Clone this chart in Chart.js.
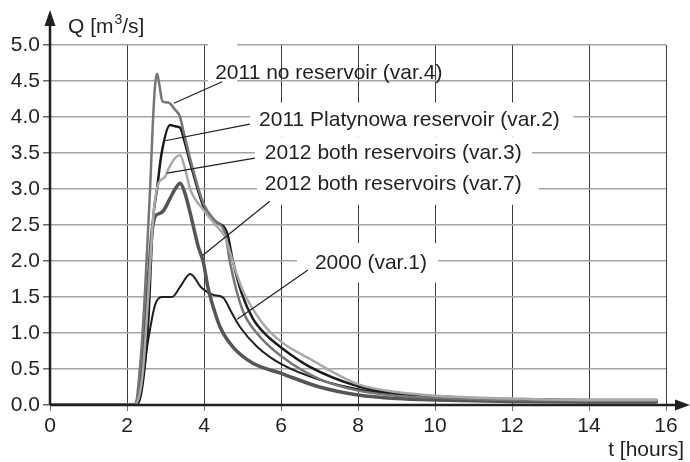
<!DOCTYPE html>
<html>
<head>
<meta charset="utf-8">
<script src="https://cdn.jsdelivr.net/npm/chart.js@4.4.1/dist/chart.umd.min.js"></script>
<style>
  html, body { margin: 0; padding: 0; background: #fff; }
  #wrap { width: 690px; height: 462px; }
</style>
</head>
<body>
<div id="wrap"><canvas id="flood" width="690" height="462"></canvas></div>
<script>
// hydrographs: t [hours], Q [m3/s]
const var4T = [0, 2.2, 2.35, 2.47, 2.6, 2.67, 2.73, 2.78, 2.84, 2.92, 3.07, 3.25, 3.38, 3.45, 3.7, 4.0, 4.3, 4.55, 4.68, 5.0, 5.37, 6.0, 7.0, 8.0, 9.0, 10, 12, 14, 15.75];
const var4Q = [0, 0, 0.6, 1.6, 3.0, 3.9, 4.45, 4.6, 4.45, 4.22, 4.2, 4.1, 4.0, 3.84, 3.3, 2.78, 2.55, 2.38, 1.97, 1.32, 1.0, 0.68, 0.36, 0.2, 0.13, 0.1, 0.07, 0.06, 0.06];

const var2T = [0, 2.2, 2.38, 2.55, 2.67, 2.78, 2.9, 3.12, 3.25, 3.38, 3.5, 3.7, 4.0, 4.3, 4.6, 4.75, 4.98, 5.27, 5.6, 6.0, 6.75, 8.0, 9.0, 10, 12, 14, 15.75];
const var2Q = [0, 0, 0.2, 1.14, 2.53, 3.0, 3.5, 3.89, 3.87, 3.85, 3.65, 3.25, 2.74, 2.55, 2.39, 2.0, 1.55, 1.2, 0.98, 0.8, 0.53, 0.26, 0.16, 0.12, 0.08, 0.07, 0.07];

const var3T = [0, 2.2, 2.4, 2.55, 2.68, 2.8, 2.99, 3.07, 3.25, 3.38, 3.5, 3.64, 4.0, 4.3, 4.55, 4.8, 5.0, 5.5, 6.0, 6.75, 8.0, 9.0, 10, 12, 14, 15.75];
const var3Q = [0, 0, 0.4, 1.5, 2.6, 3.05, 3.17, 3.27, 3.43, 3.47, 3.3, 3.0, 2.7, 2.5, 2.33, 1.9, 1.6, 1.15, 0.88, 0.64, 0.29, 0.18, 0.13, 0.09, 0.07, 0.07];

const var7T = [0, 2.2, 2.35, 2.45, 2.55, 2.65, 2.73, 2.85, 2.95, 3.1, 3.25, 3.38, 3.5, 3.64, 3.85, 3.98, 4.1, 4.24, 4.42, 4.76, 5.27, 6.0, 7.0, 8.0, 9.0, 10, 12, 14, 15.75];
const var7Q = [0, 0, 0.3, 0.9, 1.7, 2.4, 2.62, 2.66, 2.7, 2.85, 3.0, 3.08, 2.95, 2.67, 2.2, 1.99, 1.64, 1.36, 1.08, 0.8, 0.58, 0.44, 0.25, 0.14, 0.09, 0.07, 0.05, 0.04, 0.04];

const var1T = [0, 2.25, 2.4, 2.55, 2.73, 2.9, 3.17, 3.38, 3.64, 3.95, 4.24, 4.5, 4.72, 4.94, 5.38, 6.0, 7.0, 8.0, 9.0, 10, 12, 14, 15.75];
const var1Q = [0, 0, 0.35, 0.9, 1.39, 1.5, 1.5, 1.64, 1.82, 1.62, 1.53, 1.49, 1.28, 1.08, 0.81, 0.57, 0.35, 0.22, 0.15, 0.11, 0.08, 0.07, 0.07];

const seriesNames = ['2011 no reservoir (var.4)', '2011 Platynowa reservoir (var.2)', '2012 both reservoirs (var.3)', '2012 both reservoirs (var.7)', '2000 (var.1)'];
const xTicks = [0, 2, 4, 6, 8, 10, 12, 14, 16];
const yTicks = [0, 0.5, 1, 1.5, 2, 2.5, 3, 3.5, 4, 4.5, 5];

// callouts: text anchor (left, middle) and leader line, in data units
const callouts = [
  { text: seriesNames[0], tx: 4.29, ty: 4.61, box: [4.1, 5.48, 4.86, 4.36], from: [4.47, 4.49], to: [3.22, 4.19] },
  { text: seriesNames[1], tx: 5.43, ty: 3.96, box: [5.2, 4.20, 13.6, 3.73], from: [5.19, 3.90], to: [2.99, 3.67] },
  { text: seriesNames[2], tx: 5.58, ty: 3.50, box: [5.32, 3.73, 12.52, 3.29], from: [5.32, 3.43], to: [3.04, 3.22] },
  { text: seriesNames[3], tx: 5.58, ty: 3.06, box: [5.38, 3.29, 12.7, 2.78], from: [5.71, 2.83], to: [3.97, 2.08] },
  { text: seriesNames[4], tx: 6.88, ty: 1.97, box: [6.42, 2.25, 10.08, 1.70], from: [6.7, 1.875], to: [4.86, 1.19] }
];

const font = '"Liberation Sans", Arial, sans-serif';
const ink = '#231f20';

function pts(ts, qs) { return ts.map((t, i) => ({ x: t, y: qs[i] })); }

const calloutPlugin = {
  id: 'callouts',
  beforeDatasetsDraw(chart) {
    const { ctx, scales: { x, y } } = chart;
    ctx.save();
    ctx.fillStyle = '#fff';
    callouts.forEach(c => {
      const x0 = x.getPixelForValue(c.box[0]), y0 = y.getPixelForValue(c.box[1]);
      const x1 = x.getPixelForValue(c.box[2]), y1 = y.getPixelForValue(c.box[3]);
      ctx.fillRect(x0, y0, x1 - x0, y1 - y0);
    });
    ctx.restore();
  },
  afterDatasetsDraw(chart) {
    const { ctx, scales: { x, y } } = chart;
    ctx.save();
    ctx.strokeStyle = ink;
    ctx.lineWidth = 1.2;
    callouts.forEach(c => {
      ctx.beginPath();
      ctx.moveTo(x.getPixelForValue(c.from[0]), y.getPixelForValue(c.from[1]));
      ctx.lineTo(x.getPixelForValue(c.to[0]), y.getPixelForValue(c.to[1]));
      ctx.stroke();
    });
    ctx.fillStyle = ink;
    ctx.font = '21px ' + font;
    ctx.textBaseline = 'middle';
    ctx.textAlign = 'left';
    callouts.forEach(c => {
      ctx.fillText(c.text, x.getPixelForValue(c.tx), y.getPixelForValue(c.ty));
    });
    ctx.restore();
  },
  afterDraw(chart) {
    const { ctx, chartArea: a } = chart;
    ctx.save();
    ctx.strokeStyle = ink;
    ctx.fillStyle = ink;
    ctx.lineWidth = 2.5;
    // y axis with arrow
    ctx.beginPath();
    ctx.moveTo(a.left, a.bottom);
    ctx.lineTo(a.left, 22);
    ctx.stroke();
    ctx.beginPath();
    ctx.moveTo(a.left, 10);
    ctx.lineTo(a.left - 5.5, 26);
    ctx.lineTo(a.left + 5.5, 26);
    ctx.closePath();
    ctx.fill();
    // x axis with arrow
    ctx.beginPath();
    ctx.moveTo(a.left, a.bottom);
    ctx.lineTo(680, a.bottom);
    ctx.stroke();
    ctx.beginPath();
    ctx.moveTo(690, a.bottom);
    ctx.lineTo(675, a.bottom - 5.5);
    ctx.lineTo(675, a.bottom + 5.5);
    ctx.closePath();
    ctx.fill();
    // axis titles
    ctx.font = '21px ' + font;
    ctx.textBaseline = 'alphabetic';
    ctx.textAlign = 'left';
    let px = 68;
    ctx.fillText('Q [m', px, 33);
    px += ctx.measureText('Q [m').width;
    ctx.font = '14px ' + font;
    ctx.fillText('3', px + 1, 24);
    px += ctx.measureText('3').width + 1;
    ctx.font = '21px ' + font;
    ctx.fillText('/s]', px, 33);
    ctx.textAlign = 'right';
    ctx.fillText('t [hours]', 684, 456);
    ctx.restore();
  }
};

new Chart(document.getElementById('flood'), {
  type: 'line',
  data: {
    datasets: [
      { label: seriesNames[2], data: pts(var3T, var3Q), borderColor: '#a9a9a9', borderWidth: 2.5 },
      { label: seriesNames[0], data: pts(var4T, var4Q), borderColor: '#767676', borderWidth: 2.5 },
      { label: seriesNames[3], data: pts(var7T, var7Q), borderColor: '#555555', borderWidth: 3.5 },
      { label: seriesNames[1], data: pts(var2T, var2Q), borderColor: '#1e1a1a', borderWidth: 2.5 },
      { label: seriesNames[4], data: pts(var1T, var1Q), borderColor: ink, borderWidth: 2 }
    ]
  },
  options: {
    responsive: false,
    animation: false,
    devicePixelRatio: 1,
    layout: { padding: { top: 45, right: 24, left: 0, bottom: 0 } },
    elements: {
      point: { radius: 0 },
      line: { cubicInterpolationMode: 'monotone', borderJoinStyle: 'round', borderCapStyle: 'round' }
    },
    plugins: { legend: { display: false }, tooltip: { enabled: false } },
    scales: {
      x: {
        type: 'linear',
        min: 0,
        max: 16,
        afterFit: s => { s.height = 57; },
        afterBuildTicks: s => { s.ticks = xTicks.map(v => ({ value: v })); },
        border: { display: false },
        grid: { color: '#3c3c3c', lineWidth: 1, tickLength: 6, tickColor: '#777' },
        ticks: { color: ink, font: { family: font, size: 21 }, padding: 3, maxRotation: 0 }
      },
      y: {
        min: 0,
        max: 5,
        afterFit: s => { s.width = 50; },
        afterBuildTicks: s => { s.ticks = yTicks.map(v => ({ value: v })); },
        border: { display: false },
        grid: { color: '#a3a3a3', lineWidth: 1.5, tickLength: 7, tickColor: '#666' },
        ticks: { color: ink, font: { family: font, size: 21 }, padding: 3, callback: v => v.toFixed(1) }
      }
    }
  },
  plugins: [calloutPlugin]
});
</script>
</body>
</html>
